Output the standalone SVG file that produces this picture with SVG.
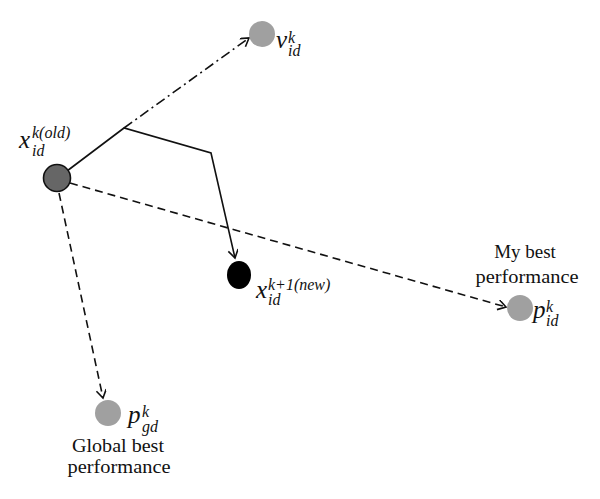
<svg xmlns="http://www.w3.org/2000/svg" width="600" height="499" viewBox="0 0 600 499">
<style>
.lbl{font-family:"Liberation Serif","Times New Roman",serif;font-size:19px;fill:#111;text-anchor:middle}
.m{font-family:"Liberation Serif","Times New Roman",serif;font-style:italic;font-size:25px;fill:#111}
.s{font-size:16px}
.c{fill:none;stroke:#111;stroke-width:1.6}
.dash{stroke-dasharray:8 5}
.dd{stroke-dasharray:10 4 2 4}
.gray{fill:#a0a0a0}
</style>
<defs>
<marker id="ah" markerWidth="12" markerHeight="12" refX="9" refY="5" orient="auto" markerUnits="userSpaceOnUse">
<polyline points="1,0 9,5 1,10" fill="none" stroke="#111" stroke-width="1.6"/>
</marker>
</defs>
<rect width="600" height="499" fill="#fff"/>
<g id="connectors">
<polyline class="c" points="67,171 124,128 211,153 235,258" marker-end="url(#ah)"/>
<line class="c dd" x1="124" y1="128" x2="249" y2="38" marker-end="url(#ah)"/>
<line class="c dash" x1="70" y1="183" x2="506" y2="307" marker-end="url(#ah)"/>
<line class="c dash" x1="59" y1="193" x2="103" y2="398" marker-end="url(#ah)"/>
</g>
<g id="node-v">
<circle class="gray" cx="262" cy="34" r="13"/>
<text class="m"><tspan x="276" y="48">v</tspan><tspan class="s" x="288" y="43">k</tspan><tspan class="s" x="288" y="56">id</tspan></text>
</g>
<g id="node-xold">
<circle cx="57" cy="178" r="13.5" fill="#666" stroke="#111" stroke-width="1.6"/>
<text class="m"><tspan x="19" y="148">x</tspan><tspan class="s" x="32" y="138">k(old)</tspan><tspan class="s" x="32" y="156">id</tspan></text>
</g>
<g id="node-xnew">
<ellipse cx="239" cy="275" rx="12" ry="14" fill="#000"/>
<text class="m"><tspan x="256" y="298">x</tspan><tspan class="s" x="268" y="290">k+1(new)</tspan><tspan class="s" x="268" y="305">id</tspan></text>
</g>
<g id="node-pid">
<circle class="gray" cx="520" cy="308" r="13"/>
<text class="m"><tspan x="533" y="318">p</tspan><tspan class="s" x="546" y="312">k</tspan><tspan class="s" x="546" y="326">id</tspan></text>
<text class="lbl" x="525" y="258">My best</text>
<text class="lbl" x="527" y="283" textLength="103" lengthAdjust="spacingAndGlyphs">performance</text>
</g>
<g id="node-pgd">
<circle class="gray" cx="108" cy="413" r="13"/>
<text class="m"><tspan x="128" y="423">p</tspan><tspan class="s" x="142" y="417">k</tspan><tspan class="s" x="142" y="432">gd</tspan></text>
<text class="lbl" x="118" y="452" textLength="92" lengthAdjust="spacingAndGlyphs">Global best</text>
<text class="lbl" x="119" y="473" textLength="103" lengthAdjust="spacingAndGlyphs">performance</text>
</g>
</svg>
